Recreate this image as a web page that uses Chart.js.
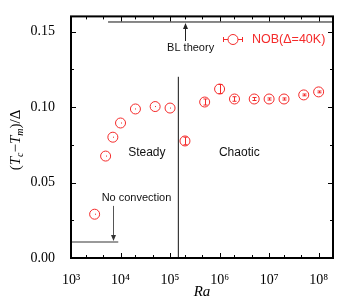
<!DOCTYPE html>
<html>
<head>
<meta charset="utf-8">
<script src="https://cdn.jsdelivr.net/npm/chart.js@4.4.0/dist/chart.umd.min.js"></script>
<style>
html, body { margin: 0; padding: 0; background: #fff; }
</style>
</head>
<body>
<canvas id="chart" width="357" height="300"></canvas>
<script>
// data
const ra = [3e3, 5e3, 7e3, 1e4, 2e4, 5e4, 1e5, 2e5, 5e5, 1e6, 2e6, 5e6, 1e7, 2e7, 5e7, 1e8];
const tcm = [0.029, 0.0675, 0.080, 0.0894, 0.0987, 0.1003, 0.0993, 0.0775, 0.1033, 0.1119, 0.1053, 0.1053, 0.1053, 0.1053, 0.108, 0.110];
const tcmErr = [0, 0, 0, 0, 0, 0, 0, 0.0025, 0.002, 0.003, 0.0015, 0.001, 0.0007, 0.0007, 0.0006, 0.0006];

const xTicks = [1e3, 1e4, 1e5, 1e6, 1e7, 1e8];
const xMinor = [2e3, 4.5e3, 2e4, 4.5e4, 2e5, 4.5e5, 2e6, 4.5e6, 2e7, 4.5e7];
const yTicks = [0, 0.05, 0.10, 0.15];
const yMinor = [0.025, 0.075, 0.125];
const sup = {3: '\u00b3', 4: '\u2074', 5: '\u2075', 6: '\u2076', 7: '\u2077', 8: '\u2078'};

// reference lines
const blX = [5.6e3, 1.95e8], blY = [0.1563, 0.1563];
const splitX = [1.47e5, 1.47e5], splitY = [0, 0.12];
const noConvX = [1e3, 9e3], noConvY = [0.0106, 0.0106];

const red = '#f42a2a';
const serif = "'Liberation Serif', 'Times New Roman', serif";
const sans = "'Liberation Sans', Arial, sans-serif";

const ctx = document.getElementById('chart').getContext('2d');

function arrow(c, x, y0, y1) {
	const dir = y1 > y0 ? 1 : -1;
	c.beginPath();
	c.moveTo(x, y0);
	c.lineTo(x, y1 - dir * 3);
	c.stroke();
	c.beginPath();
	c.moveTo(x, y1);
	c.lineTo(x - 2.5, y1 - dir * 6);
	c.lineTo(x + 2.5, y1 - dir * 6);
	c.closePath();
	c.fill();
}

const decorations = {
	id: 'decorations',
	afterDatasetsDraw(chart) {
		const c = chart.ctx;
		const xs = chart.scales.x, ys = chart.scales.y;
		const a = chart.chartArea;
		c.save();

		// error bars + centre dots
		c.strokeStyle = red;
		c.fillStyle = red;
		c.lineWidth = 1;
		for (let i = 0; i < ra.length; i++) {
			const px = Math.round(xs.getPixelForValue(ra[i])) + 0.5;
			const py = ys.getPixelForValue(tcm[i]);
			if (tcmErr[i] > 0) {
				const top = ys.getPixelForValue(tcm[i] + tcmErr[i]);
				const bot = ys.getPixelForValue(tcm[i] - tcmErr[i]);
				c.beginPath();
				c.moveTo(px, top); c.lineTo(px, bot);
				c.moveTo(px - 2, top); c.lineTo(px + 2, top);
				c.moveTo(px - 2, bot); c.lineTo(px + 2, bot);
				c.stroke();
			} else {
				c.fillRect(px - 0.5, py - 0.5, 1, 1);
			}
		}

		// arrows
		c.strokeStyle = '#222';
		c.fillStyle = '#222';
		arrow(c, Math.round(xs.getPixelForValue(2e5)) + 0.5, ys.getPixelForValue(0.1437), ys.getPixelForValue(0.1563) + 1);
		c.strokeStyle = '#555';
		c.fillStyle = '#333';
		arrow(c, Math.round(xs.getPixelForValue(7e3)) + 0.5, ys.getPixelForValue(0.0345), ys.getPixelForValue(0.0106) - 1);

		// annotation text
		c.fillStyle = '#111';
		c.textAlign = 'center';
		c.textBaseline = 'middle';
		c.font = '12px ' + sans;
		c.fillText('Steady', xs.getPixelForValue(3.4e4), ys.getPixelForValue(0.0695));
		c.fillText('Chaotic', xs.getPixelForValue(2.5e6), ys.getPixelForValue(0.0695));
		c.font = '11px ' + sans;
		c.fillText('No convection', xs.getPixelForValue(2.1e4), ys.getPixelForValue(0.0397));
		c.fillText('BL theory', xs.getPixelForValue(2.6e5), ys.getPixelForValue(0.139));

		// legend
		const lx = 233, ly = 39;
		c.strokeStyle = red;
		c.lineWidth = 1;
		c.beginPath();
		c.moveTo(223, ly + 0.5); c.lineTo(243, ly + 0.5);
		c.moveTo(223.5, ly - 2); c.lineTo(223.5, ly + 3);
		c.moveTo(242.5, ly - 2); c.lineTo(242.5, ly + 3);
		c.stroke();
		c.beginPath();
		c.arc(lx, ly + 0.5, 5, 0, Math.PI * 2);
		c.fillStyle = '#fff';
		c.fill();
		c.stroke();
		c.fillStyle = red;
		c.textAlign = 'left';
		c.font = '12.5px ' + sans;
		c.fillText('NOB(\u0394=40K)', 252, ly + 1);

		// frame
		c.strokeStyle = '#000';
		c.lineWidth = 2;
		c.strokeRect(a.left, a.top, a.right - a.left, a.bottom - a.top);

		// inward ticks on all four sides
		c.lineWidth = 1;
		c.beginPath();
		const xt = (v, len) => {
			const p = Math.round(xs.getPixelForValue(v)) + 0.5;
			c.moveTo(p, a.bottom); c.lineTo(p, a.bottom - len);
			c.moveTo(p, a.top); c.lineTo(p, a.top + len);
		};
		const yt = (v, len) => {
			const p = Math.round(ys.getPixelForValue(v)) + 0.5;
			c.moveTo(a.left, p); c.lineTo(a.left + len, p);
			c.moveTo(a.right, p); c.lineTo(a.right - len, p);
		};
		xTicks.forEach(v => xt(v, 5));
		xMinor.forEach(v => xt(v, 3));
		yTicks.forEach(v => yt(v, 5));
		yMinor.forEach(v => yt(v, 3));
		c.stroke();

		// axis titles
		c.fillStyle = '#000';
		c.textAlign = 'center';
		c.textBaseline = 'middle';
		c.font = 'italic 15px ' + serif;
		c.fillText('Ra', (a.left + a.right) / 2, 292);

		c.translate(16, 140);
		c.rotate(-Math.PI / 2);
		const parts = [
			['(', '15px ', 0],
			['T', 'italic 15px ', 0],
			['c', 'italic 10px ', 4],
			['\u2212', '15px ', 0],
			['T', 'italic 15px ', 0],
			['m', 'italic 10px ', 4],
			[')/\u0394', '15px ', 0]
		];
		let w = 0;
		parts.forEach(p => { c.font = p[1] + serif; w += c.measureText(p[0]).width; });
		let x = -w / 2;
		c.textAlign = 'left';
		parts.forEach(p => {
			c.font = p[1] + serif;
			c.fillText(p[0], x, p[2]);
			x += c.measureText(p[0]).width;
		});
		c.restore();
	}
};

new Chart(ctx, {
	type: 'scatter',
	data: {
		datasets: [{
			label: 'NOB(\u0394=40K)',
			data: ra.map((v, i) => ({x: v, y: tcm[i]})),
			pointStyle: 'circle',
			pointRadius: 5,
			pointBorderWidth: 1,
			borderColor: red,
			backgroundColor: 'rgba(0,0,0,0)'
		}, {
			type: 'line',
			data: blX.map((v, i) => ({x: v, y: blY[i]})),
			borderColor: '#111',
			borderWidth: 1,
			pointRadius: 0
		}, {
			type: 'line',
			data: splitX.map((v, i) => ({x: v, y: splitY[i]})),
			borderColor: '#111',
			borderWidth: 1,
			pointRadius: 0
		}, {
			type: 'line',
			data: noConvX.map((v, i) => ({x: v, y: noConvY[i]})),
			borderColor: '#777',
			borderWidth: 1.5,
			pointRadius: 0
		}]
	},
	options: {
		responsive: false,
		animation: false,
		layout: {
			padding: {left: 0, right: 24, top: 16, bottom: 0}
		},
		plugins: {
			legend: {display: false},
			tooltip: {enabled: false}
		},
		scales: {
			x: {
				type: 'logarithmic',
				min: 1e3,
				max: 1.95e8,
				afterBuildTicks: s => { s.ticks = xTicks.map(v => ({value: v})); },
				afterFit: s => { s.height = 42; },
				grid: {display: false},
				border: {display: false},
				ticks: {
					padding: 6,
					maxRotation: 0,
					color: '#000',
					font: {family: serif, size: 14},
					callback: v => '10' + sup[Math.round(Math.log10(v))]
				}
			},
			y: {
				min: 0,
				max: 0.16,
				afterBuildTicks: s => { s.ticks = yTicks.map(v => ({value: v})); },
				afterFit: s => { s.width = 71; },
				grid: {display: false},
				border: {display: false},
				ticks: {
					padding: 8,
					color: '#000',
					font: {family: serif, size: 14},
					callback: v => v.toFixed(2)
				}
			}
		}
	},
	plugins: [decorations]
});
</script>
</body>
</html>
